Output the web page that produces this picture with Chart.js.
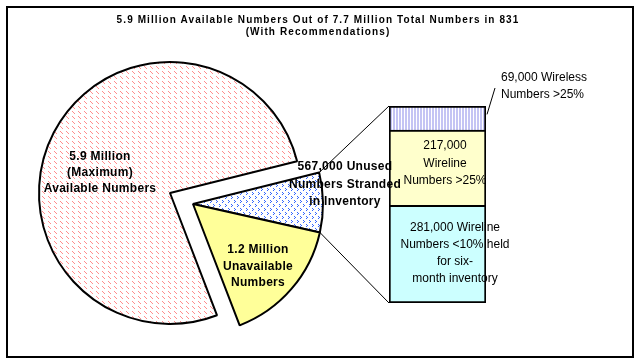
<!DOCTYPE html>
<html>
<head>
<meta charset="utf-8">
<script src="https://cdn.jsdelivr.net/npm/chart.js@4.4.1/dist/chart.umd.min.js"></script>
<style>
    body { margin: 0; background: #fff; }
    #wrap { position: relative; width: 639px; height: 363px; overflow: hidden; font-family: "Liberation Sans", Arial, sans-serif; }
    #wrap canvas { position: absolute; left: 0; top: 0; }
    .frame { position: absolute; left: 6px; top: 6px; width: 628px; height: 352px; border: 2px solid #000; box-sizing: border-box; }
    .lbl { position: absolute; white-space: nowrap; font-size: 12px; color: #000; }
    .lbl.c { transform: translateX(-50%); text-align: center; }
    .lbl.b { font-weight: bold; letter-spacing: 0.3px; }
    .lbl.title { font-size: 10px; line-height: 12px; letter-spacing: 1.1px; }
</style>
</head>
<body>
<div id="wrap">
    <div class="frame"></div>
    <canvas id="pieBig" width="639" height="363"></canvas>
    <canvas id="pieRest" width="639" height="363"></canvas>
    <canvas id="stackBar" width="639" height="363"></canvas>
</div>
<script>
// Pie: numbers in 831 (millions)
const pieLabels = [
    ['567,000 Unused', 'Numbers Stranded', 'in Inventory'],
    ['1.2 Million', 'Unavailable', 'Numbers'],
    ['5.9 Million', '(Maximum)', 'Available Numbers']
];
const pieValues = [0.567, 1.2, 5.9];

// Bar: breakdown of the 567,000 stranded numbers (bottom to top)
const barLabels = [
    ['281,000 Wireline', 'Numbers <10% held', 'for six-', 'month inventory'],
    ['217,000', 'Wireline', 'Numbers >25%'],
    ['69,000 Wireless', 'Numbers >25%']
];
const barValues = [281000, 217000, 69000];

const titleLines = ['5.9 Million Available Numbers Out of 7.7 Million Total Numbers in 831', '(With Recommendations)'];

// small tiled fills like the old Excel patterns
function makePattern(w, h, bg, fg, pixels) {
    const c = document.createElement('canvas');
    c.width = w; c.height = h;
    const g = c.getContext('2d');
    g.fillStyle = bg;
    g.fillRect(0, 0, w, h);
    g.fillStyle = fg;
    pixels.forEach(p => g.fillRect(p[0], p[1], 1, 1));
    return g.createPattern(c, 'repeat');
}

const hatchPink = makePattern(6, 5, '#fff', '#ff8c8c', [[0, 1], [1, 2], [2, 3]]);
const dotsBlue = makePattern(6, 8, '#fff', '#3366ff', [[0, 0], [1, 1], [0, 2], [3, 4], [4, 5], [3, 6]]);
const stripesLav = makePattern(3, 1, '#fff', '#c4c4f4', [[0, 0], [1, 0]]);

const clear = 'rgba(0,0,0,0)';
const rotation = 76;

const baseOptions = {
    responsive: false,
    animation: false,
    events: [],
    plugins: { legend: { display: false }, tooltip: { enabled: false } }
};

// the big slice sits apart from the other two, so it gets its own centre
const pieBig = new Chart(document.getElementById('pieBig'), {
    type: 'pie',
    data: {
        labels: pieLabels,
        datasets: [{
            data: pieValues,
            backgroundColor: [clear, clear, hatchPink],
            borderColor: [clear, clear, '#000'],
            borderWidth: [0, 0, 2]
        }]
    },
    options: Object.assign({}, baseOptions, {
        rotation: rotation,
        radius: 131,
        layout: { padding: { left: 0, right: 299, top: 23, bottom: 0 } }
    })
});

const pieRest = new Chart(document.getElementById('pieRest'), {
    type: 'pie',
    data: {
        labels: pieLabels,
        datasets: [{
            data: pieValues,
            backgroundColor: [dotsBlue, '#ffff99', clear],
            borderColor: ['#000', '#000', clear],
            borderWidth: [2, 2, 0]
        }]
    },
    options: Object.assign({}, baseOptions, {
        rotation: rotation,
        radius: 130,
        layout: { padding: { left: 0, right: 253, top: 45, bottom: 0 } }
    })
});

// lines joining the stranded slice to the bar, plus the leader for the top segment
const connectors = {
    id: 'connectors',
    afterDraw(chart) {
        const arc = pieRest.getDatasetMeta(0).data[0];
        const bottomSeg = chart.getDatasetMeta(0).data[0];
        const topSeg = chart.getDatasetMeta(barValues.length - 1).data[0];
        const left = topSeg.x - topSeg.width / 2;
        const right = topSeg.x + topSeg.width / 2;
        const ctx = chart.ctx;
        ctx.save();
        ctx.strokeStyle = '#000';
        ctx.lineWidth = 1;
        ctx.beginPath();
        ctx.moveTo(arc.x + arc.outerRadius * Math.cos(arc.startAngle), arc.y + arc.outerRadius * Math.sin(arc.startAngle));
        ctx.lineTo(left, topSeg.y);
        ctx.moveTo(arc.x + arc.outerRadius * Math.cos(arc.endAngle), arc.y + arc.outerRadius * Math.sin(arc.endAngle));
        ctx.lineTo(left, bottomSeg.base);
        ctx.moveTo(right + 1, topSeg.y + (topSeg.base - topSeg.y) * 0.35);
        ctx.lineTo(right + 9, topSeg.y - 18);
        ctx.stroke();
        ctx.restore();
    }
};

const barColors = ['#ccffff', '#ffffcc', stripesLav];
const barBorders = [
    { top: 2, left: 2, right: 2, bottom: 2 },
    { top: 2, left: 2, right: 2, bottom: 0 },
    { top: 2, left: 2, right: 2, bottom: 0 }
];
const barTotal = barValues.reduce((a, b) => a + b, 0);

new Chart(document.getElementById('stackBar'), {
    type: 'bar',
    data: {
        labels: [''],
        datasets: barValues.map((v, i) => ({
            label: barLabels[i].join(' '),
            data: [v],
            backgroundColor: barColors[i],
            borderColor: '#000',
            borderWidth: barBorders[i],
            borderSkipped: false,
            barPercentage: 1,
            categoryPercentage: 1
        }))
    },
    options: Object.assign({}, baseOptions, {
        layout: { padding: { left: 389, right: 153, top: 106, bottom: 60 } },
        scales: {
            x: { stacked: true, display: false },
            y: { stacked: true, display: false, min: 0, max: barTotal }
        }
    }),
    plugins: [connectors]
});

// text labels
const wrap = document.getElementById('wrap');
function addLabel(lines, x, top, lineHeight, cls) {
    const d = document.createElement('div');
    d.className = 'lbl ' + cls;
    d.style.left = x + 'px';
    d.style.top = top + 'px';
    d.style.lineHeight = lineHeight + 'px';
    d.innerHTML = lines.map(t => t.replace(/&/g, '&amp;').replace(/</g, '&lt;').replace(/>/g, '&gt;')).join('<br>');
    wrap.appendChild(d);
    return d;
}

addLabel(titleLines, 318, 14, 12, 'c b title');
addLabel(pieLabels[2], 100, 148, 16, 'c b');
addLabel(pieLabels[1], 258, 241, 16.5, 'c b');
addLabel(pieLabels[0], 345, 158, 17.5, 'c b');
addLabel(barLabels[1], 445, 137, 17.5, 'c');
addLabel(barLabels[0], 455, 219, 17, 'c');
addLabel(barLabels[2], 501, 69, 17, '');
</script>
</body>
</html>
